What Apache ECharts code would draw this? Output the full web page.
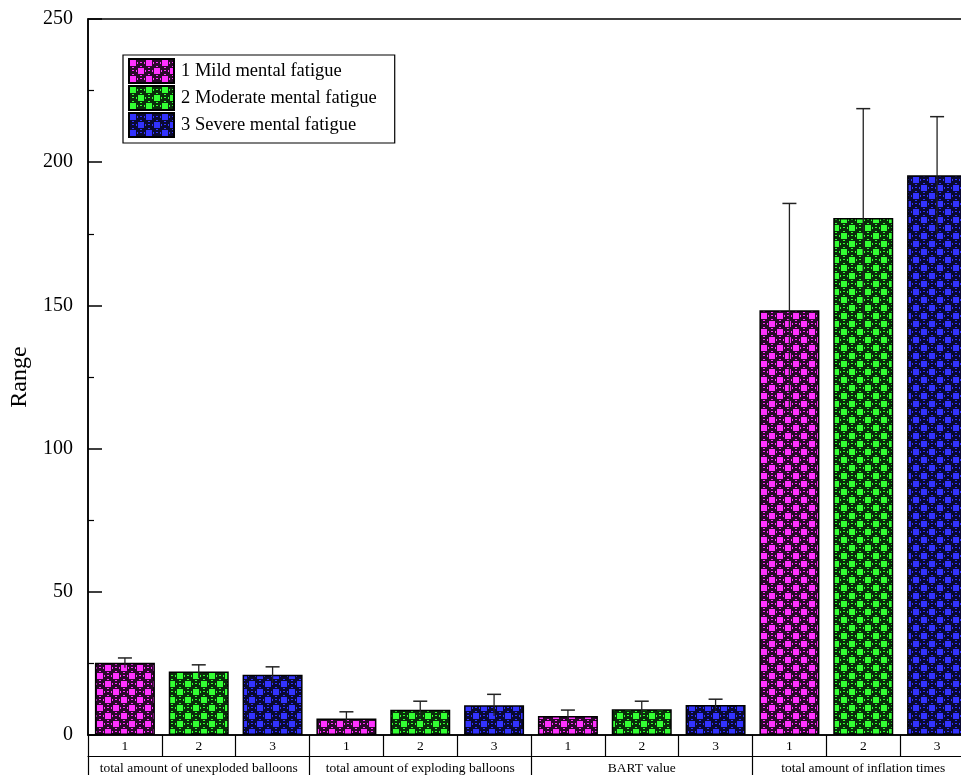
<!DOCTYPE html>
<html>
<head>
<meta charset="utf-8">
<script src="https://cdn.jsdelivr.net/npm/echarts@6/dist/echarts.min.js"></script>
<style>
  html, body { margin: 0; padding: 0; background: #fff; }
  #chart { width: 961px; height: 775px; }
</style>
</head>
<body>
<div id="chart"></div>
<script>
// Measures (groups) and fatigue levels
const groups = ['total amount of unexploded balloons', 'total amount of exploding balloons', 'BART value', 'total amount of inflation times'];
const levels = ['1', '2', '3'];
const seriesNames = ['1 Mild mental fatigue', '2 Moderate mental fatigue', '3 Severe mental fatigue'];

// Means per measure, one array per fatigue level
const mildMean = [25.2, 5.8, 6.6, 148.3];
const moderateMean = [22.2, 8.8, 9.0, 180.5];
const severeMean = [21.0, 10.4, 10.5, 195.4];

// Standard deviations (error bar half-lengths)
const mildErr = [1.7, 2.3, 2.1, 37.3];
const moderateErr = [2.3, 3.0, 2.8, 38.2];
const severeErr = [2.8, 3.8, 2.0, 20.5];

const yTicks = [0, 50, 100, 150, 200, 250];

const means = [mildMean, moderateMean, severeMean];
const errs = [mildErr, moderateErr, severeErr];

// Twelve slots: each measure gets three bars (levels 1, 2, 3)
const slots = [];
groups.forEach(() => levels.forEach(l => slots.push(l)));

// Patterned fill: dark ground, bright squares and dotted rings
function makeTile(bright, dark) {
  const c = document.createElement('canvas');
  c.width = 16; c.height = 16;
  const g = c.getContext('2d');
  g.fillStyle = dark; g.fillRect(0, 0, 16, 16);
  g.fillStyle = bright;
  g.fillRect(1, 1, 6, 6);
  g.fillRect(9, 9, 6, 6);
  const rings = [[12, 4], [4, 12]];
  rings.forEach(([cx, cy]) => {
    const pts = [[-4, -1], [-4, 0], [3, -1], [3, 0], [-1, -4], [0, -4], [-1, 3], [0, 3]];
    pts.forEach(([dx, dy]) => g.fillRect(cx + dx, cy + dy, 1, 1));
    g.fillRect(cx - 1, cy - 1, 2, 1);
  });
  return c;
}
const fills = [
  { image: makeTile('#ff33ff', '#2a0a2a'), repeat: 'repeat' },
  { image: makeTile('#33ff33', '#0a2c0a'), repeat: 'repeat' },
  { image: makeTile('#3333ff', '#0a0a32'), repeat: 'repeat' }
];

const FONT = 'Liberation Serif, Times New Roman, serif';

const barSeries = seriesNames.map((name, li) => ({
  name: name,
  type: 'bar',
  xAxisIndex: 0,
  barWidth: 60,
  barGap: '-100%',
  itemStyle: { color: fills[li], borderColor: '#000', borderWidth: 1.5 },
  emphasis: { disabled: true },
  data: slots.map((_, i) => {
    const gi = Math.floor(i / 3), l = i % 3;
    return l === li ? means[li][gi] : '-';
  })
}));

const errData = [];
groups.forEach((_, gi) => levels.forEach((_, li) => {
  errData.push([gi * 3 + li, means[li][gi], errs[li][gi]]);
}));

const errSeries = {
  type: 'custom',
  xAxisIndex: 0,
  z: 5,
  silent: true,
  data: errData,
  renderItem: function (params, api) {
    const x = api.value(0), m = api.value(1), e = api.value(2);
    const top = api.coord([x, m + e]);
    const bot = api.coord([x, m - e]);
    const half = 7;
    return {
      type: 'group',
      children: [
        { type: 'line', shape: { x1: top[0], y1: top[1], x2: bot[0], y2: bot[1] }, style: { stroke: '#222', lineWidth: 1.3 } },
        { type: 'line', shape: { x1: top[0] - half, y1: top[1], x2: top[0] + half, y2: top[1] }, style: { stroke: '#222', lineWidth: 1.5 } }
      ]
    };
  }
};

const chart = echarts.init(document.getElementById('chart'), null, { renderer: 'canvas' });
chart.setOption({
  animation: false,
  backgroundColor: '#fff',
  grid: {
    left: 88, top: 19, bottom: 40, width: 886,
    outerBoundsMode: 'none', containLabel: false,
    show: true, borderColor: '#000', borderWidth: 1.5, backgroundColor: 'transparent'
  },
  legend: {
    data: seriesNames,
    orient: 'vertical',
    left: 123, top: 55,
    itemWidth: 45, itemHeight: 24, itemGap: 1,
    padding: [3, 18, 5, 5],
    backgroundColor: '#fff',
    borderColor: '#000', borderWidth: 1.2,
    icon: 'rect',
    selectedMode: false,
    textStyle: { fontFamily: FONT, fontSize: 18.5, color: '#000', padding: [0, 0, 0, 2] }
  },
  xAxis: [
    {
      type: 'category', data: slots, position: 'bottom',
      axisLine: { lineStyle: { color: '#000', width: 1.5 } },
      axisTick: { show: true, length: 21, lineStyle: { color: '#000', width: 1.2 } },
      axisLabel: { fontFamily: FONT, fontSize: 13.5, color: '#000', margin: 4 },
      splitLine: { show: false }
    },
    {
      type: 'category', data: groups, position: 'bottom', offset: 21,
      axisLine: { lineStyle: { color: '#000', width: 1.2 } },
      axisTick: { show: true, length: 25, lineStyle: { color: '#000', width: 1.2 } },
      axisLabel: { fontFamily: FONT, fontSize: 13.5, color: '#000', margin: 5, interval: 0 },
      splitLine: { show: false }
    }
  ],
  yAxis: {
    type: 'value', min: yTicks[0], max: yTicks[yTicks.length - 1], interval: 50,
    name: 'Range', nameLocation: 'middle', nameGap: 54,
    nameTextStyle: { fontFamily: FONT, fontSize: 24, color: '#000' },
    axisLine: { show: true, lineStyle: { color: '#000', width: 1.5 } },
    axisTick: { show: true, inside: true, length: 14, lineStyle: { color: '#000', width: 1.5 } },
    minorTick: { show: true, splitNumber: 2, length: 6, lineStyle: { color: '#000', width: 1.2 } },
    axisLabel: { fontFamily: FONT, fontSize: 20, color: '#000', margin: 15, padding: [7, 0, 0, 0] },
    splitLine: { show: false }
  },
  series: barSeries.concat([errSeries])
});
</script>
</body>
</html>
